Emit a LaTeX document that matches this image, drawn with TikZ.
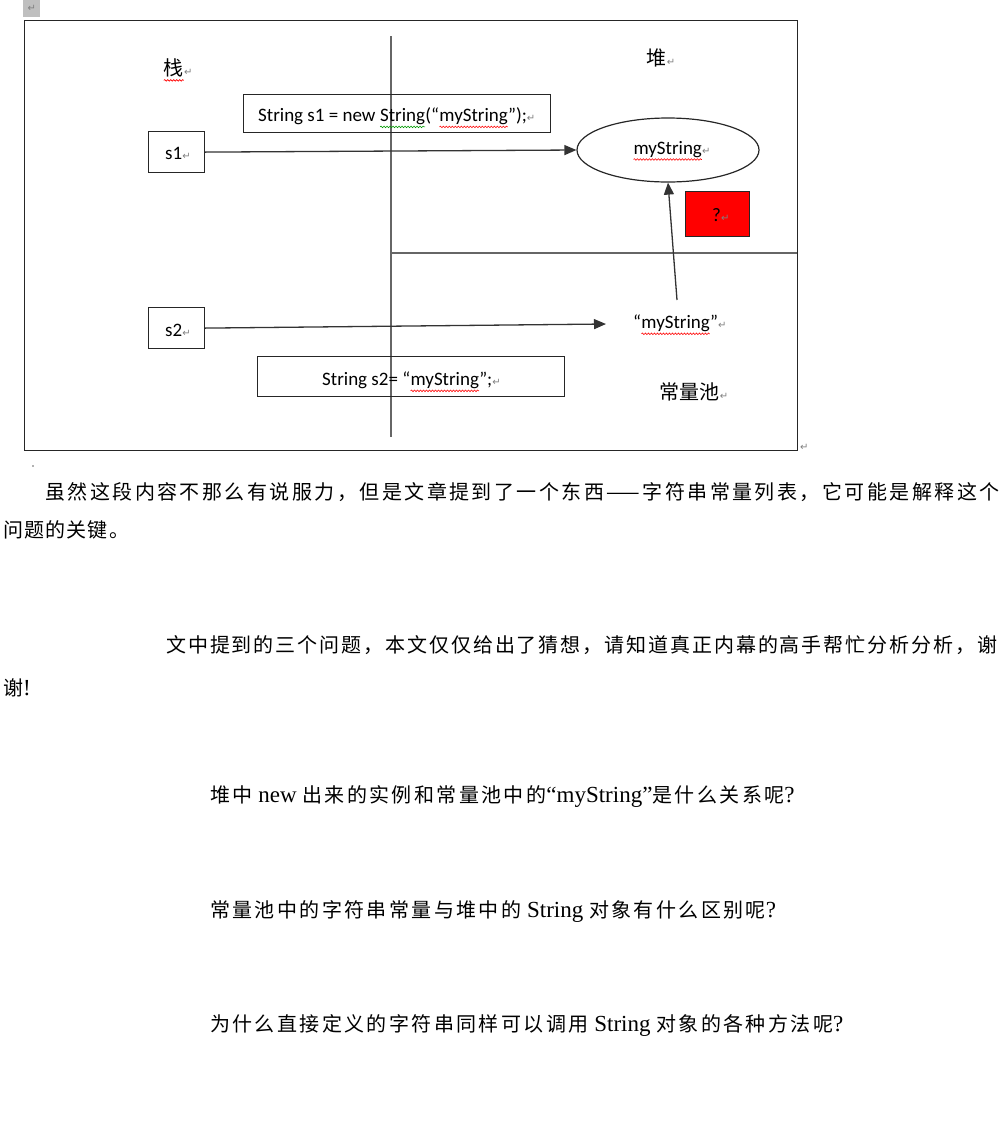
\documentclass[tikz,border=0pt]{standalone}
\usepackage{fontspec}
\setmainfont{Liberation Serif}
\newfontfamily\fcjk{Noto Sans CJK SC}
\newfontfamily\fcjkA{Noto Sans CJK SC}[LetterSpace=12.3]
\newfontfamily\fcjkB{Noto Sans CJK SC}[LetterSpace=6]
\newfontfamily\fcjkC{Noto Sans CJK SC}[LetterSpace=9.6]
\newfontfamily\fcjkQ{Noto Sans CJK SC}[LetterSpace=12]
\newfontfamily\fcal{Carlito}
\newfontfamily\fsym{DejaVu Sans}
\usetikzlibrary{arrows.meta,shapes.geometric,decorations.pathmorphing}
\newcommand\parmark{{\fsym\fontsize{10}{10}\selectfont\color{gray}↵}}
\newcommand\wavy[2][red]{\tikz[baseline=(w.base)]{\node[inner sep=0pt,outer sep=0pt,anchor=base,draw=none,fill=none] (w) {#2};
  \draw[#1,line width=0.6pt,decorate,decoration={snake,amplitude=0.8pt,segment length=3pt}] ([yshift=-5pt]w.base west) -- ([yshift=-5pt]w.base east);}}
\tikzset{
  box/.style={draw=black!85,line width=1.2pt,inner sep=0pt},
  lbl/.style={inner sep=0pt,font=\fcal\fontsize{19}{19}\selectfont},
  cjklbl/.style={inner sep=0pt,font=\fcjk\fontsize{20}{20}\selectfont},
  body/.style={inner sep=0pt,anchor=west,font=\fontsize{23}{23}\selectfont},
  conn/.style={line width=1.3pt,draw=black!80,-{Triangle[length=12pt,width=10pt]}},
  divider/.style={line width=1.4pt,draw=black!60}
}
\begin{document}
\begin{tikzpicture}[x=1pt,y=-1pt]
\useasboundingbox (0,0) rectangle (1002,1125);
% corner mark
\node[fill=black!25,minimum width=17pt,minimum height=17pt,inner sep=0pt,anchor=north west] (corner) at (23,0) {\parmark};
% frame
\node[box,minimum width=773pt,minimum height=430pt,anchor=north west,line width=1.3pt] (frame) at (24,20) {};
\node[anchor=west,inner sep=0pt] (endmark) at (800,447) {\parmark};
% dividers
\coordinate (vtop) at (391,36);
\coordinate (vbot) at (391,437);
\coordinate (hl) at (391,253);
\coordinate (hr) at (797,253);
\draw[divider] (vtop) -- (vbot);
\draw[divider] (hl) -- (hr);
% titles
\node[cjklbl] (stack) at (178,70) {\wavy{栈}\parmark};
\node[cjklbl] (heaplbl) at (661,58) {堆\parmark};
\node[cjklbl] (pool) at (694,392) {常量池\parmark};
% code boxes
\node[box,minimum width=307pt,minimum height=38pt,anchor=north west] (code1) at (243,94) {};
\node[lbl,anchor=west] (code1t) at (258,118) {String s1 = new \wavy[green!60!black]{String}(“\wavy{myString}”);\parmark};
\node[box,minimum width=307pt,minimum height=40pt,anchor=north west] (code2) at (257,356) {};
\node[lbl,anchor=west] (code2t) at (322,382) {String s2= “\wavy{myString}”;\parmark};
% variables
\node[box,minimum width=56pt,minimum height=41pt,anchor=north west] (s1) at (148,131) {};
\node[lbl,anchor=west] (s1t) at (165,153) {s1\parmark};
\node[box,minimum width=56pt,minimum height=41pt,anchor=north west] (s2) at (148,307) {};
\node[lbl,anchor=west] (s2t) at (165,330) {s2\parmark};
% heap object
\node[ellipse,draw=black!85,line width=1.2pt,minimum width=182pt,minimum height=64pt,inner sep=0pt] (obj) at (668,150) {};
\node[lbl,anchor=west] (objt) at (633,151) {\wavy{myString}\parmark};
% red box
\node[draw=black!85,line width=1.2pt,fill=red,minimum width=64pt,minimum height=45pt,inner sep=0pt,anchor=north west] (q) at (685,191) {};
\node[lbl,anchor=west] (qt) at (712,215) {?\parmark};
% constant
\node[lbl,anchor=west] (const) at (633,325) {“\wavy{myString}”\parmark};
\coordinate (constTop) at (677,300);
\coordinate (s2end) at (606,324);
% connectors
\draw[conn] (s1.east) -- (obj.west);
\draw[conn] (s2.east) -- (s2end);
\draw[conn] (constTop) -- (obj.south);
% small dot
\node[fill=black!30,inner sep=0pt,minimum size=1.5pt] (dot) at (33,466) {};
% body text
\node[body] (p1) at (45,492) {\fcjkA\fontsize{20}{20}\selectfont 虽然这段内容不那么有说服力，但是文章提到了一个东西——字符串常量列表，它可能是解释这个};
\node[body] (p2) at (3,530) {\fcjkB\fontsize{20}{20}\selectfont 问题的关键。};
\node[body] (p3) at (166,645) {\fcjkC\fontsize{20}{20}\selectfont 文中提到的三个问题，本文仅仅给出了猜想，请知道真正内幕的高手帮忙分析分析，谢};
\node[body] (p4) at (3,688) {{\fcjk\fontsize{20}{20}\selectfont 谢}!};
\node[body] (q1) at (210,797) {{\fcjkQ\fontsize{20}{20}\selectfont 堆中} new {\fcjkQ\fontsize{20}{20}\selectfont 出来的实例和常量池中的}“myString”{\fcjkQ\fontsize{20}{20}\selectfont 是什么关系呢}?};
\node[body] (q2) at (210,911) {{\fcjkQ\fontsize{20}{20}\selectfont 常量池中的字符串常量与堆中的} String {\fcjkQ\fontsize{20}{20}\selectfont 对象有什么区别呢}?};
\node[body] (q3) at (210,1025) {{\fcjkQ\fontsize{20}{20}\selectfont 为什么直接定义的字符串同样可以调用} String {\fcjkQ\fontsize{20}{20}\selectfont 对象的各种方法呢}?};
\end{tikzpicture}
\end{document}
